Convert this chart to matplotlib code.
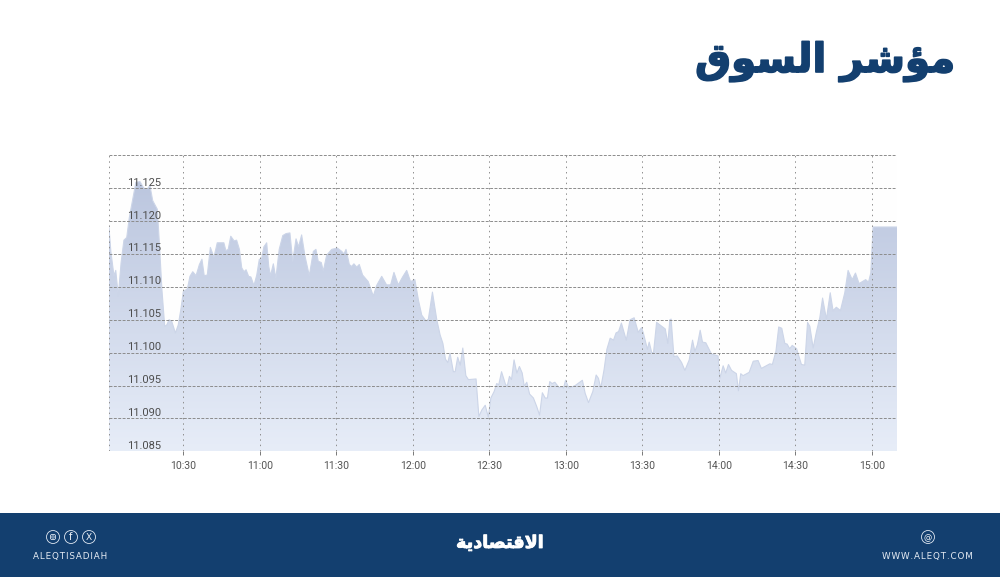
import numpy as np
import matplotlib.pyplot as plt
import matplotlib.patheffects as pe
from matplotlib.patches import Rectangle, Circle, FancyBboxPatch
from matplotlib.transforms import offset_copy

# minutes after 10:00, index level
minutes = [0.85, 1.6, 2.8, 3.5, 4.5, 5.6, 6.7, 7.8, 8.8, 10.4, 11.4, 13, 14.5, 15.9, 16.9, 18, 19.8, 20.6, 21.6, 22.7,
           23.5, 24.4, 25.4, 26.9, 28, 29, 30, 31.6, 32.6, 33.7, 35, 36.3, 37.3, 38.2, 39.4, 40.6, 42, 43.3, 45.9, 46.7,
           47.6, 48.6, 49.9, 50.9, 52, 52.9, 53.8, 54.6, 55.6, 56.5, 57.7, 58.8, 59.8, 60.6, 61.6, 62.7, 63.5, 64.2, 65.3, 66.3,
           67.6, 69, 70.3, 71.8, 72.9, 74.2, 75.2, 76.4, 77.7, 79.4, 81, 82, 82.9, 84.1, 84.9, 86.2, 88.2, 90.4, 92.1, 93,
           93.8, 95.1, 96, 96.9, 98, 99, 100.3, 102.5, 104.5, 105.8, 107.8, 109.7, 111.3, 112.6, 114.3, 116, 117.6, 119.1, 120.8, 122.2,
           123.5, 125.2, 126.1, 127.7, 129.4, 130.7, 131.8, 132.8, 133.7, 134.6, 135.9, 136.6, 137.6, 138.6, 139.6, 140.8, 141.8, 144.8, 145.9, 147.1,
           148.4, 149.6, 150.6, 151.9, 152.9, 153.7, 154.8, 156.4, 157.1, 157.9, 158.7, 159.7, 160.8, 161.8, 162.9, 163.7, 164.7, 165.8, 167.3, 168.6,
           169.7, 170.8, 171.9, 172.8, 173.7, 174.6, 175.7, 177.3, 178.3, 179.1, 179.9, 181.2, 183.7, 186.5, 187.6, 188.9, 190.6, 191.9, 192.8, 193.7,
           195, 196.1, 197.4, 198.7, 199.7, 200.7, 201.8, 203.7, 205.2, 206.8, 208.4, 209.7, 210.4, 212, 212.7, 213.7, 214.4, 215.6, 219, 220,
           220.8, 221.3, 222.4, 223.7, 225.4, 226.7, 228.4, 229.7, 230.6, 231.6, 232.7, 233.6, 234.9, 237.1, 239.7, 240.4, 241.7, 242.7, 243.8, 245,
           246.9, 247.7, 248.6, 249.5, 251.9, 253.5, 255.4, 256.7, 260, 261, 262.4, 263.5, 264.7, 265.9, 266.8, 267.8, 268.8, 270.5, 272.4, 273.7,
           274.8, 275.7, 277, 278.3, 279.6, 280.7, 282.2, 283.7, 284.8, 286.1, 287.7, 289.4, 290.7, 292.3, 293.6, 295, 297.6, 298.7, 299.6, 300.5,
           310]
index_level = [11.119, 11.1153, 11.1117, 11.1125, 11.1086, 11.1137, 11.1171, 11.1175, 11.1205, 11.1238, 11.1259, 11.126, 11.125, 11.1249, 11.1254, 11.1231, 11.1218, 11.1167, 11.1096, 11.104,
               11.1042, 11.105, 11.1048, 11.103, 11.1042, 11.1065, 11.1093, 11.1097, 11.1116, 11.1123, 11.1117, 11.1134, 11.1142, 11.1117, 11.1118, 11.116, 11.1145, 11.1167, 11.1167, 11.1155,
               11.1157, 11.1177, 11.117, 11.1171, 11.1157, 11.1129, 11.1123, 11.1126, 11.1116, 11.1115, 11.1102, 11.1118, 11.1142, 11.1141, 11.1161, 11.1167, 11.1131, 11.1117, 11.1135, 11.1113,
               11.1157, 11.1178, 11.1181, 11.1182, 11.1139, 11.1173, 11.1161, 11.1179, 11.1147, 11.1117, 11.1154, 11.1157, 11.1139, 11.1137, 11.1124, 11.1148, 11.1157, 11.1159, 11.1154, 11.115,
               11.1157, 11.1134, 11.1131, 11.1135, 11.113, 11.1134, 11.1118, 11.1108, 11.1086, 11.1102, 11.1116, 11.1103, 11.1103, 11.1122, 11.1103, 11.1115, 11.1125, 11.1108, 11.1111, 11.108,
               11.1057, 11.1048, 11.1051, 11.1092, 11.105, 11.1027, 11.1014, 11.099, 11.0985, 11.0999, 11.0971, 11.0971, 11.0993, 11.0981, 11.1007, 11.0965, 11.0959, 11.096, 11.0903, 11.0913,
               11.092, 11.0902, 11.0931, 11.0941, 11.0953, 11.0951, 11.0971, 11.0951, 11.095, 11.0964, 11.0959, 11.0989, 11.0969, 11.0979, 11.0969, 11.0949, 11.0955, 11.0937, 11.0931, 11.0918,
               11.0905, 11.0939, 11.0931, 11.0931, 11.0956, 11.0953, 11.0955, 11.0947, 11.0948, 11.0946, 11.0958, 11.0946, 11.095, 11.0958, 11.0938, 11.0924, 11.0941, 11.0966, 11.0961, 11.0946,
               11.0974, 11.1005, 11.1022, 11.1019, 11.103, 11.1032, 11.1045, 11.1019, 11.105, 11.1053, 11.1031, 11.1038, 11.103, 11.1005, 11.1016, 11.1, 11.1, 11.1046, 11.1036, 11.1014,
               11.105, 11.1051, 11.0994, 11.0995, 11.0985, 11.0973, 11.0989, 11.1019, 11.1002, 11.1012, 11.1034, 11.1016, 11.1015, 11.0998, 11.0995, 11.0961, 11.098, 11.0969, 11.0982, 11.0973,
               11.0968, 11.0942, 11.0968, 11.0965, 11.097, 11.0987, 11.0988, 11.0976, 11.0983, 11.0982, 11.1002, 11.1039, 11.1037, 11.1014, 11.1013, 11.1006, 11.1011, 11.1006, 11.0982, 11.0981,
               11.1046, 11.104, 11.1007, 11.1032, 11.1053, 11.1083, 11.1051, 11.1091, 11.1064, 11.1069, 11.1064, 11.1091, 11.1125, 11.1111, 11.1121, 11.1105, 11.1111, 11.1107, 11.1121, 11.1191,
               11.1191]

y_ticks = [11.085, 11.09, 11.095, 11.1, 11.105, 11.11, 11.115, 11.12, 11.125]
x_ticks = [30, 60, 90, 120, 150, 180, 210, 240, 270, 300]
x_labels = ['10:30', '11:00', '11:30', '12:00', '12:30', '13:00', '13:30', '14:00', '14:30', '15:00']

# Arabic written in presentation forms, visual order, because matplotlib does no shaping
title = '\ufed5\ufeee\ufeb4\ufedf\ufe8d \ufeae\ufeb7\ufe86\ufee3'
logo = '\ufe94\ufef3\ufea9\ufe8e\ufebc\ufe98\ufed7\ufefb\ufe8d'

navy = '#133f6f'
W, H = 1000, 577

fig = plt.figure(figsize=(10, 5.77), dpi=100)
ax = fig.add_axes([109 / W, 1 - 451.3 / H, 788.3 / W, 296 / H])
ax.set_xlim(0.85, 310)
ax.set_ylim(11.085, 11.13)
ax.set_facecolor('#fefefe')
for s in ax.spines.values():
    s.set_visible(False)

# area with vertical gradient clipped to the series
poly = ax.fill_between(minutes, index_level, 11.085, color='none', lw=0)
grad = np.linspace(0, 1, 256).reshape(-1, 1)
top = np.array([186, 197, 222]) / 255
bottom = np.array([231, 237, 248]) / 255
rgb = (top + (bottom - top) * grad).reshape(256, 1, 3)
img = ax.imshow(rgb, extent=[0.85, 310, 11.085, 11.127], aspect='auto', zorder=1, origin='upper')
img.set_clip_path(poly.get_paths()[0], transform=ax.transData)
ax.set_xlim(0.85, 310)
ax.set_ylim(11.085, 11.13)
ax.plot(minutes, index_level, color='#ccd5e8', lw=0.8, zorder=1.5)

ax.set_yticks(y_ticks + [11.13])
ax.set_xticks(x_ticks)
ax.set_xticklabels(x_labels, family='Roboto', fontsize=7.6, color='#555555')
ax.set_yticklabels([])
ax.tick_params(axis='y', length=0)
ax.tick_params(axis='x', length=3, width=0.7, color='#777777', pad=4)
ax.set_axisbelow(False)
ax.grid(axis='y', color='#8c8c8c', lw=0.7, ls=(0, (3, 1.5)), zorder=2)
ax.grid(axis='x', color='#8f8f8f', lw=0.7, ls=(0, (1.5, 4)), zorder=2)
for edge in [0.85, 310]:
    ax.axvline(edge, color='#8f8f8f', lw=0.7, ls=(0, (1.5, 4)), zorder=2)

label_tr = offset_copy(ax.get_yaxis_transform(), fig=fig, x=52, y=2.5, units='dots')
for v in y_ticks:
    ax.text(0, v, f'{v:.3f}', transform=label_tr, ha='right', va='baseline',
            family='Roboto', fontsize=8, color='#4d4d4d', zorder=3)

# page furniture in pixel coordinates
page = fig.add_axes([0, 0, 1, 1], zorder=5)
page.set_xlim(0, W)
page.set_ylim(H, 0)
page.axis('off')
page.patch.set_alpha(0)
page.add_patch(Rectangle((0, 513), W, 64, color=navy, lw=0))
page.text(955, 62, title, family='DejaVu Sans', weight='bold', fontsize=29, color=navy, ha='right', va='center',
          path_effects=[pe.withStroke(linewidth=1.2, foreground=navy)])
page.text(500, 543, logo, family='DejaVu Sans', weight='bold', fontsize=12.6, color='white', ha='center', va='center',
          path_effects=[pe.withStroke(linewidth=0.6, foreground='white')])

for cx in [53, 71, 89, 928]:
    page.add_patch(Circle((cx, 537), 6.5, fc='none', ec='#dfe7f1', lw=0.6))
page.add_patch(FancyBboxPatch((50.5, 534.5), 5, 5, boxstyle='round,pad=0,rounding_size=1.5', fc='none', ec='#dfe7f1', lw=0.6))
page.add_patch(Circle((53, 537), 1.2, fc='none', ec='#dfe7f1', lw=0.5))
page.text(71, 537.3, 'f', color='#eef2f7', fontsize=7, ha='center', va='center')
page.text(89, 537.3, 'X', color='#eef2f7', fontsize=6.5, ha='center', va='center')
page.text(928, 537.3, '@', color='#eef2f7', fontsize=6, ha='center', va='center')

hair = '\u200a'
page.text(70, 556.5, hair.join('ALEQTISADIAH'), color='#e6ecf4', fontsize=6.3, family='DejaVu Sans', ha='center', va='center')
page.text(927.5, 556.5, hair.join('WWW.ALEQT.COM'), color='#e6ecf4', fontsize=6.3, family='DejaVu Sans', ha='center', va='center')

fig.savefig('out.png', dpi=100)
